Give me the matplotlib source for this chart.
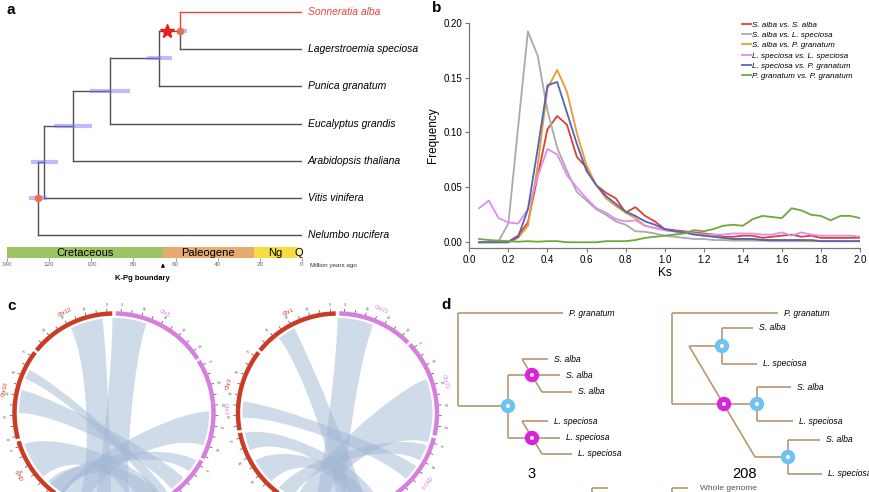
import numpy as np
import matplotlib.pyplot as plt
from matplotlib.path import Path
from matplotlib.patches import PathPatch, Circle

plt.rcParams['font.family'] = ['Liberation Sans', 'DejaVu Sans']

W, H = 870, 492

# ---------------- panel a : dated species tree ----------------
taxa = ['Sonneratia alba', 'Lagerstroemia speciosa', 'Punica granatum',
        'Eucalyptus grandis', 'Arabidopsis thaliana', 'Vitis vinifera',
        'Nelumbo nucifera']
node_age = [57.9, 67.9, 91.0, 108.7, 122.4, 125.3]
ci_old = [59.5, 73.6, 100.6, 117.7, 128.6, 129.6]
ci_young = [54.7, 61.7, 81.6, 99.7, 115.8, 121.0]
wgd_age = 64.0
periods = ['Cretaceous', 'Paleogene', 'Ng', 'Q']
period_old = [140, 66, 23, 2.6]
period_young = [66, 23, 2.6, 0]
period_col = ['#9cc462', '#e6aa72', '#f5dc42', '#fbf4a6']
kpg_age = 66
age_ticks = [140, 120, 100, 80, 60, 40, 20, 0]

# ---------------- panel b : Ks distributions ----------------
ks = [0.05, 0.10, 0.15, 0.20, 0.25, 0.30, 0.35, 0.40, 0.45, 0.50,
      0.55, 0.60, 0.65, 0.70, 0.75, 0.80, 0.85, 0.90, 0.95, 1.00,
      1.05, 1.10, 1.15, 1.20, 1.25, 1.30, 1.35, 1.40, 1.45, 1.50,
      1.55, 1.60, 1.65, 1.70, 1.75, 1.80, 1.85, 1.90, 1.95, 2.00]
sa_sa = [0.000, 0.000, 0.000, 0.0005, 0.006, 0.018, 0.060, 0.103, 0.115, 0.107,
         0.078, 0.068, 0.052, 0.045, 0.040, 0.027, 0.032, 0.024, 0.019, 0.012,
         0.011, 0.010, 0.009, 0.008, 0.007, 0.005, 0.005, 0.006, 0.006, 0.004,
         0.005, 0.006, 0.007, 0.005, 0.006, 0.004, 0.004, 0.004, 0.004, 0.004]
sa_ls = [0.000, 0.000, 0.001, 0.017, 0.105, 0.192, 0.170, 0.120, 0.086, 0.065,
         0.046, 0.038, 0.030, 0.025, 0.019, 0.016, 0.010, 0.0095, 0.008, 0.006,
         0.005, 0.004, 0.003, 0.003, 0.002, 0.002, 0.0015, 0.0015, 0.0015, 0.0015,
         0.001, 0.001, 0.001, 0.001, 0.001, 0.001, 0.001, 0.001, 0.001, 0.001]
sa_pg = [0.000, 0.000, 0.000, 0.000, 0.004, 0.015, 0.070, 0.140, 0.157, 0.137,
         0.100, 0.070, 0.052, 0.040, 0.033, 0.027, 0.022, 0.015, 0.013, 0.011,
         0.010, 0.009, 0.008, 0.006, 0.006, 0.004, 0.003, 0.003, 0.003, 0.002,
         0.002, 0.002, 0.002, 0.002, 0.001, 0.001, 0.001, 0.001, 0.001, 0.001]
ls_ls = [0.031, 0.038, 0.022, 0.018, 0.017, 0.030, 0.060, 0.085, 0.080, 0.061,
         0.050, 0.040, 0.031, 0.027, 0.021, 0.019, 0.020, 0.015, 0.013, 0.011,
         0.010, 0.009, 0.008, 0.007, 0.007, 0.007, 0.008, 0.008, 0.008, 0.007,
         0.007, 0.009, 0.006, 0.009, 0.007, 0.006, 0.006, 0.006, 0.006, 0.005]
ls_pg = [0.000, 0.000, 0.000, 0.000, 0.005, 0.030, 0.085, 0.143, 0.146, 0.118,
         0.090, 0.065, 0.052, 0.042, 0.035, 0.028, 0.024, 0.019, 0.016, 0.012,
         0.010, 0.009, 0.007, 0.006, 0.005, 0.004, 0.003, 0.003, 0.003, 0.002,
         0.002, 0.002, 0.002, 0.002, 0.002, 0.001, 0.001, 0.001, 0.001, 0.001]
pg_pg = [0.003, 0.002, 0.0015, 0.001, 0.0005, 0.001, 0.0005, 0.001, 0.001, 0.000,
         0.000, 0.000, 0.000, 0.001, 0.001, 0.001, 0.002, 0.004, 0.005, 0.006,
         0.007, 0.008, 0.011, 0.010, 0.012, 0.015, 0.016, 0.015, 0.021, 0.024,
         0.023, 0.022, 0.031, 0.029, 0.025, 0.024, 0.020, 0.024, 0.024, 0.022]
ks_labels = ['S. alba vs. S. alba', 'S. alba vs. L. speciosa', 'S. alba vs. P. granatum',
             'L. speciosa vs. L. speciosa', 'L. speciosa vs. P. granatum',
             'P. granatum vs. P. granatum']
ks_colors = ['#d9432f', '#aaaaaa', '#eb9a3a', '#e08cf0', '#5066b8', '#6ea83c']

# ---------------- panel c : circos synteny ----------------
c1_chr = ['Chr12', 'Chr10', 'Chr6', 'Chr5', 'Chr3', 'Chr4']
c1_from = [91, 142.5, 196.5, 89, 31.5, -28.5]
c1_to = [141, 195, 290, 33, -27, -95]
c1_lab = [116, 168, 213, 63, 2, -60]
c1_ribbons = [(97, 117, 248, 268), (70, 91, 258, 280), (153, 159, -63, -56),
              (166, 180, -53, -43), (199, 222, 280, 300), (-20, 1, 236, 253),
              (-38, -30, 228, 238), (226, 238, 286, 298)]
c2_chr = ['Chr1', 'Chr3', 'Chr8', 'Chr21', 'Chr22', 'Chr24']
c2_from = [91, 142.5, 191.5, 89, 43.5, -14.5]
c2_to = [141, 190, 290, 45, -13, -95]
c2_lab = [116, 165, 220, 67, 16, -38]
c2_ribbons = [(117, 128, 270, 288), (68, 90, 256, 275), (173, 183, -44, -34),
              (192, 203, 280, 295), (-18, 21, 244, 262), (210, 226, 276, 290),
              (-30, -20, 232, 242)]
side_col = ['#cc3b24', '#cc3b24', '#cc3b24', '#d77ee0', '#d77ee0', '#d77ee0']

# ---------------- panel d : gene trees (pixel layout) ----------------
tree_lines = [
    [(458, 313), (563, 313)], [(458, 313), (458, 406)], [(458, 406), (508, 406)],
    [(508, 375), (508, 438)], [(508, 375), (532, 375)], [(508, 438), (532, 438)],
    [(522, 359), (542, 392)], [(522, 359), (548, 359)], [(532, 375), (560, 375)],
    [(542, 392), (572, 392)], [(522, 421), (542, 454)], [(522, 421), (548, 421)],
    [(532, 438), (560, 438)], [(542, 454), (572, 454)],
    [(672, 313), (778, 313)], [(672, 313), (672, 404)], [(672, 404), (724, 404)],
    [(689, 346), (755, 457)], [(689, 346), (722, 346)], [(722, 328), (722, 364)],
    [(722, 328), (753, 328)], [(722, 364), (757, 364)], [(724, 404), (757, 404)],
    [(757, 387), (757, 421)], [(757, 387), (791, 387)], [(757, 421), (793, 421)],
    [(755, 457), (788, 457)], [(788, 440), (788, 474)], [(788, 440), (820, 440)],
    [(788, 474), (822, 474)],
    [(592, 492), (592, 488)], [(592, 488), (608, 488)],
    [(672, 492), (672, 488)], [(672, 488), (688, 488)]]
tree_tips = [(563, 313, 'P. granatum'), (548, 359, 'S. alba'), (560, 375, 'S. alba'),
             (572, 392, 'S. alba'), (548, 421, 'L. speciosa'), (560, 438, 'L. speciosa'),
             (572, 454, 'L. speciosa'), (778, 313, 'P. granatum'), (753, 328, 'S. alba'),
             (757, 364, 'L. speciosa'), (791, 387, 'S. alba'), (793, 421, 'L. speciosa'),
             (820, 440, 'S. alba'), (822, 474, 'L. speciosa')]
spec_nodes = [(508, 406), (722, 346), (757, 404), (788, 457)]
dup_nodes = [(532, 375), (532, 438), (724, 404)]
tree_counts = [(532, 474, '3'), (745, 474, '208')]

fig = plt.figure(figsize=(W / 100, H / 100), dpi=100)
ov = fig.add_axes([0, 0, 1, 1])
ov.set_xlim(0, W)
ov.set_ylim(H, 0)
ov.axis('off')

# ---- a
dark = '#505050'
red = '#e8453c'
ta = fig.add_axes([7 / W, 1 - 245 / H, 295 / W, 245 / H])
ta.set_xlim(140, 0)
ta.set_ylim((245 - 12) / 37.17, -12 / 37.17)
ta.axis('off')
cy_, ca_ = 0.0, 0.0
node_y = []
for k, age in enumerate(node_age):
    tip = k + 1
    ny = (cy_ + tip) / 2
    node_y.append(ny)
    ta.plot([age, age], [cy_, ny], color=red if k == 0 else dark, lw=1, zorder=2)
    ta.plot([age, age], [ny, tip], color=dark, lw=1, zorder=2)
    ta.plot([age, ca_], [cy_, cy_], color=red if k == 0 else dark, lw=1, zorder=2)
    ta.plot([age, 0], [tip, tip], color=dark, lw=1, zorder=2)
    cy_, ca_ = ny, age
for lo, hi, ny in zip(ci_old, ci_young, node_y):
    ta.plot([lo, hi], [ny, ny], color='#7a7aff', lw=3, alpha=0.5,
            solid_capstyle='butt', zorder=3)
ta.plot([node_age[0], node_age[-1]], [node_y[0], node_y[-1]], 'o', ls='none',
        color='#ec6f4f', ms=4.5, zorder=4)
ta.plot(wgd_age, node_y[0], '*', color='#e3201b', ms=10, zorder=5)
for i, name in enumerate(taxa):
    ta.text(-2.85, i, name, style='italic', fontsize=7.5, va='center', ha='left',
            color=red if i == 0 else 'k', clip_on=False)

tb = fig.add_axes([7 / W, 1 - 258.3 / H, 295 / W, 11.6 / H])
tb.set_xlim(140, 0)
tb.set_ylim(0, 1)
for name, o, y, c in zip(periods, period_old, period_young, period_col):
    tb.axvspan(o, y, color=c, lw=0)
    tb.text((o + y) / 2, 0.45, name, ha='center', va='center', fontsize=8)
tb.set_yticks([])
for s in tb.spines.values():
    s.set_visible(False)
tb.set_xticks(age_ticks)
tb.tick_params(axis='x', length=2, width=0.5, pad=1, labelsize=4.5,
               colors='#666666')
tb.annotate('', xy=(kpg_age, -0.2), xytext=(kpg_age, -0.9),
            arrowprops=dict(arrowstyle='-|>', lw=0.7, color='k', mutation_scale=5),
            annotation_clip=False)
fig.text(142 / W, 1 - 278 / H, 'K-Pg boundary', fontsize=5.5, fontweight='bold',
         ha='center', va='center')
fig.text(310 / W, 1 - 265 / H, 'Million years ago', fontsize=4.5, ha='left',
         va='center', color='#333333')

# ---- b
ax = fig.add_axes([469.3 / W, 1 - 248.3 / H, 390.7 / W, 225.6 / H])
for ser, lab, c in zip([sa_sa, sa_ls, sa_pg, ls_ls, ls_pg, pg_pg], ks_labels, ks_colors):
    ax.plot(ks, ser, color=c, lw=1.3, label=lab)
ax.set_xlim(0, 2.0)
ax.set_ylim(-0.0055, 0.2)
ax.set_xticks(np.arange(0, 2.01, 0.2))
ax.set_xticklabels([f'{v:.1f}' for v in np.arange(0, 2.01, 0.2)])
ax.set_yticks([0, 0.05, 0.10, 0.15, 0.20])
ax.set_yticklabels(['0.00', '0.05', '0.10', '0.15', '0.20'])
ax.spines['top'].set_visible(False)
ax.spines['right'].set_visible(False)
for s in ['left', 'bottom']:
    ax.spines[s].set_color('#777777')
    ax.spines[s].set_linewidth(0.9)
ax.tick_params(length=3, width=0.8, color='#777777', labelsize=7, pad=2)
ax.set_xlabel('Ks', fontsize=8.5, labelpad=1)
ax.set_ylabel('Frequency', fontsize=8.5, labelpad=3)
ax.legend(loc='upper left', bbox_to_anchor=(742 / W, 1 - 21 / H),
          bbox_transform=fig.transFigure, frameon=False,
          prop={'style': 'italic', 'size': 5.8}, handlelength=1.1,
          handletextpad=0.2, labelspacing=0.33, borderpad=0, borderaxespad=0)


# ---- c
def pt(cx, cy, a, r):
    t = np.radians(a)
    return cx + r * np.cos(t), cy - r * np.sin(t)


def circos(cx, cy, chrs, starts, ends, labs, ribbons):
    R = 99.5
    for name, a0, a1, la, col in zip(chrs, starts, ends, labs, side_col):
        t = np.linspace(a0, a1, 80)
        x, y = pt(cx, cy, t, R)
        ov.plot(x, y, color=col, lw=3.2, solid_capstyle='butt', zorder=3)
        step = 6 if a1 > a0 else -6
        for j, a in enumerate(np.arange(a0 + step / 2, a1, step)):
            x0, y0 = pt(cx, cy, a, 102)
            x1, y1 = pt(cx, cy, a, 104)
            ov.plot([x0, x1], [y0, y1], color='#444444', lw=0.5, zorder=3)
            xt, yt = pt(cx, cy, a, 108)
            if j % 2 == 0 and yt < 484:
                ov.text(xt, yt, str(j * 5), fontsize=2.5, color='#555555',
                        ha='center', va='center', rotation=a - 90)
        xl, yl = pt(cx, cy, la, 112)
        if yl < 484:
            ov.text(xl, yl, name, fontsize=4, color=col, ha='center', va='center',
                    rotation=la - 90)
    r = 95
    k = 0.6
    for a0, a1, b0, b1 in ribbons:
        xa, ya = pt(cx, cy, np.linspace(a0, a1, 30), r)
        xb, yb = pt(cx, cy, np.linspace(b0, b1, 30), r)
        verts = list(zip(xa, ya))
        verts += [(cx + k * (xa[-1] - cx), cy + k * (ya[-1] - cy)),
                  (cx + k * (xb[0] - cx), cy + k * (yb[0] - cy)), (xb[0], yb[0])]
        verts += list(zip(xb[1:], yb[1:]))
        verts += [(cx + k * (xb[-1] - cx), cy + k * (yb[-1] - cy)),
                  (cx + k * (xa[0] - cx), cy + k * (ya[0] - cy)), (xa[0], ya[0])]
        codes = [Path.MOVETO] + [Path.LINETO] * 29 + [Path.CURVE4] * 3 \
            + [Path.LINETO] * 29 + [Path.CURVE4] * 3
        ov.add_patch(PathPatch(Path(verts, codes), facecolor='#a3b8d6',
                               edgecolor='none', alpha=0.5, zorder=2))


circos(114, 413, c1_chr, c1_from, c1_to, c1_lab, c1_ribbons)
circos(337.5, 413, c2_chr, c2_from, c2_to, c2_lab, c2_ribbons)

# ---- d
brown = '#b8976f'
for seg in tree_lines:
    (x0, y0), (x1, y1) = seg
    ov.plot([x0, x1], [y0, y1], color=brown, lw=1.2, solid_capstyle='butt', zorder=3)
for x, y, name in tree_tips:
    ov.text(x + 6, y, name, style='italic', fontsize=6.2, ha='left', va='center')
for x, y in spec_nodes:
    ov.add_patch(Circle((x, y), 6.5, color='#6ec3f5', zorder=4))
    ov.add_patch(Circle((x, y), 1.3, color='white', zorder=5))
for x, y in dup_nodes:
    ov.add_patch(Circle((x, y), 6.5, color='#dd22dd', zorder=4))
    ov.add_patch(Circle((x, y), 1.3, color='white', zorder=5))
for x, y, t in tree_counts:
    ov.text(x, y, t, fontsize=10.5, ha='center', va='center')
ov.text(700, 485, 'Whole genome', fontsize=6, ha='left', va='top', color='#555555')

# ---- panel letters
for x, y, t in [(7, 3, 'a'), (432, 1, 'b'), (7, 299, 'c'), (441, 298, 'd')]:
    ov.text(x, y, t, fontsize=11, fontweight='bold', ha='left', va='top')

fig.savefig('out.png', dpi=100)
